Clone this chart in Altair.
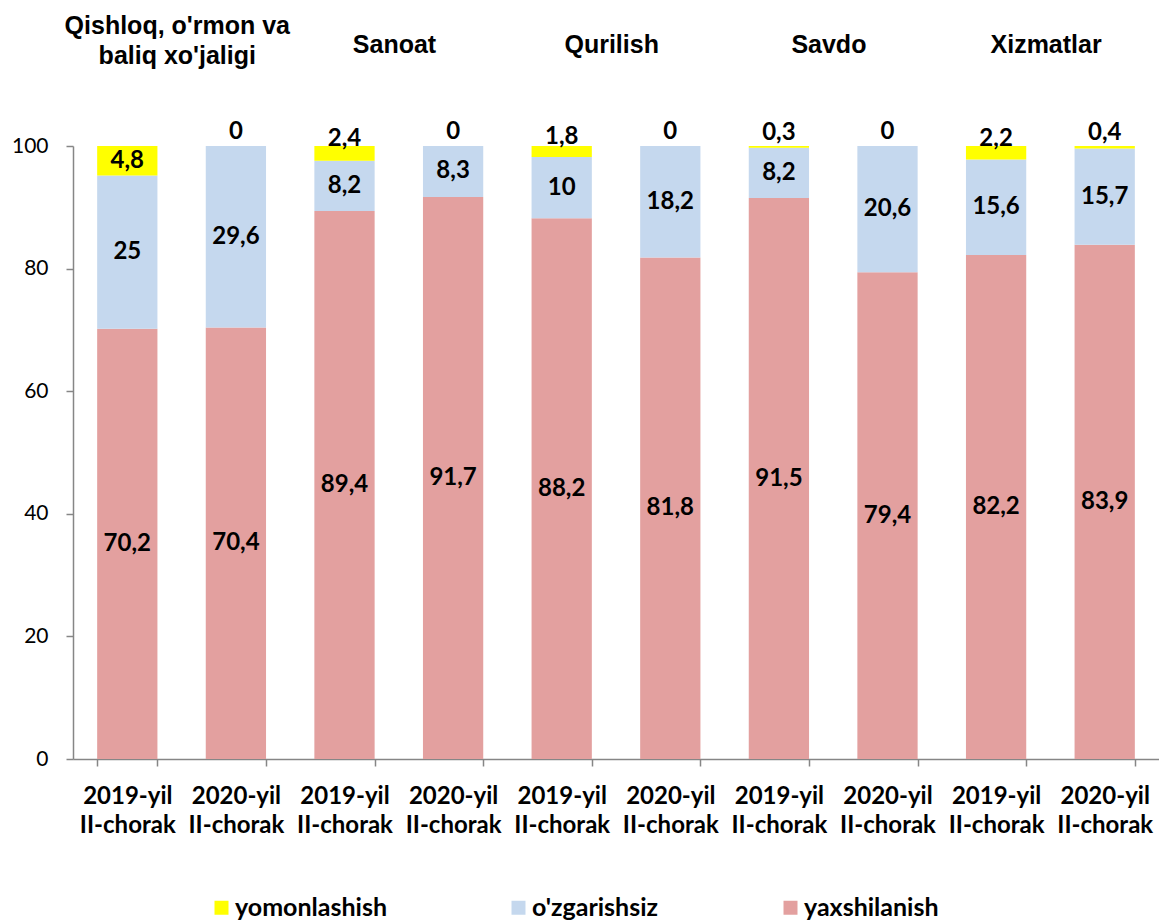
import altair as alt
import pandas as pd

sectors = ["Qishloq, o'rmon va\nbaliq xo'jaligi", "Sanoat", "Qurilish", "Savdo", "Xizmatlar"]
periods = ["2019-yil II-chorak", "2020-yil II-chorak"]
yaxshilanish = [70.2, 70.4, 89.4, 91.7, 88.2, 81.8, 91.5, 79.4, 82.2, 83.9]
ozgarishsiz = [25, 29.6, 8.2, 8.3, 10, 18.2, 8.2, 20.6, 15.6, 15.7]
yomonlashish = [4.8, 0, 2.4, 0, 1.8, 0, 0.3, 0, 2.2, 0.4]
series_names = ["yomonlashish", "o'zgarishsiz", "yaxshilanish"]
series_colors = ["#FFFF00", "#C5D8EE", "#E3A09F"]
y_ticks = [0, 20, 40, 60, 80, 100]

keys = [f"{i}|{p}" for i in range(len(sectors)) for p in periods]


def fmt(v):
    return f"{v:g}".replace(".", ",")


rows = []
for idx, key in enumerate(keys):
    vals = {"yaxshilanish": yaxshilanish[idx], "o'zgarishsiz": ozgarishsiz[idx],
            "yomonlashish": yomonlashish[idx]}
    cum = 0.0
    for order, name in enumerate(["yaxshilanish", "o'zgarishsiz", "yomonlashish"]):
        v = vals[name]
        mid = cum + v / 2
        if name == "yomonlashish" and v < 4:
            label_y = 100 + 2.3 - 0.5 * v
        else:
            label_y = mid
        cum += v
        rows.append(dict(key=key, series=name, value=v, ord=order,
                         label_y=label_y, text=fmt(v)))
df = pd.DataFrame(rows)

hdr = pd.DataFrame({"key": [f"{i}|{periods[0]}" for i in range(len(sectors))],
                    "name": sectors})

gray = "#868686"
x_enc = alt.X(
    "key:N", sort=keys,
    scale=alt.Scale(paddingInner=0.445, paddingOuter=0.2225),
    axis=alt.Axis(title=None, labelAngle=0,
                  labelExpr="datum.label ? split(split(datum.label, '|')[1], ' ') : ''",
                  labelFont="Lato", labelFontSize=24, labelFontWeight="bold",
                  labelColor="black", labelLineHeight=29, labelPadding=18,
                  tickBand="extent", tickSize=7, tickColor=gray, tickWidth=1.5,
                  domainColor=gray, domainWidth=1.5, grid=False),
)

bars = alt.Chart(df).mark_bar().encode(
    x=x_enc,
    y=alt.Y("value:Q", stack="zero",
            scale=alt.Scale(domain=[0, 100], nice=False),
            axis=alt.Axis(title=None, values=y_ticks, tickSize=7, tickColor=gray,
                          tickWidth=1.5, domainColor=gray, domainWidth=1.5,
                          labelFont="Lato", labelFontSize=21, labelColor="black",
                          labelPadding=18, grid=False)),
    color=alt.Color("series:N",
                    scale=alt.Scale(domain=series_names, range=series_colors),
                    legend=alt.Legend(orient="none", legendX=136, legendY=749,
                                      direction="horizontal", title=None,
                                      symbolType="square", symbolSize=196,
                                      symbolStrokeWidth=0, labelFont="Lato",
                                      labelFontSize=25, labelFontWeight="bold",
                                      labelColor="black", labelOffset=1,
                                      columnPadding=119, padding=0)),
    order=alt.Order("ord:Q"),
)

labels = alt.Chart(df).mark_text(font="Lato", fontSize=24, fontWeight="bold",
                                 color="black", baseline="middle").encode(
    x=alt.X("key:N", sort=keys),
    y=alt.Y("label_y:Q"),
    text="text:N",
)

hdr_style = dict(font="Liberation Sans", fontSize=25, fontWeight="bold",
                 color="black", baseline="middle", lineBreak="\n",
                 lineHeight=30, dx=50)

headers_single = alt.Chart(hdr).mark_text(**hdr_style).encode(
    x=alt.X("key:N", sort=keys),
    y=alt.value(-101),
    text="name:N",
).transform_filter("indexof(datum.name, '\\n') < 0")

headers_multi = alt.Chart(hdr).mark_text(**hdr_style).encode(
    x=alt.X("key:N", sort=keys),
    y=alt.value(-120),
    text="name:N",
).transform_filter("indexof(datum.name, '\\n') >= 0")

chart = alt.layer(bars, labels, headers_single, headers_multi).properties(
    width=1086, height=613,
    padding={"left": 3, "top": 6, "right": 0, "bottom": 0},
).configure_view(stroke=None)

chart.save("out.html", embed_options={"renderer": "svg", "actions": False})
